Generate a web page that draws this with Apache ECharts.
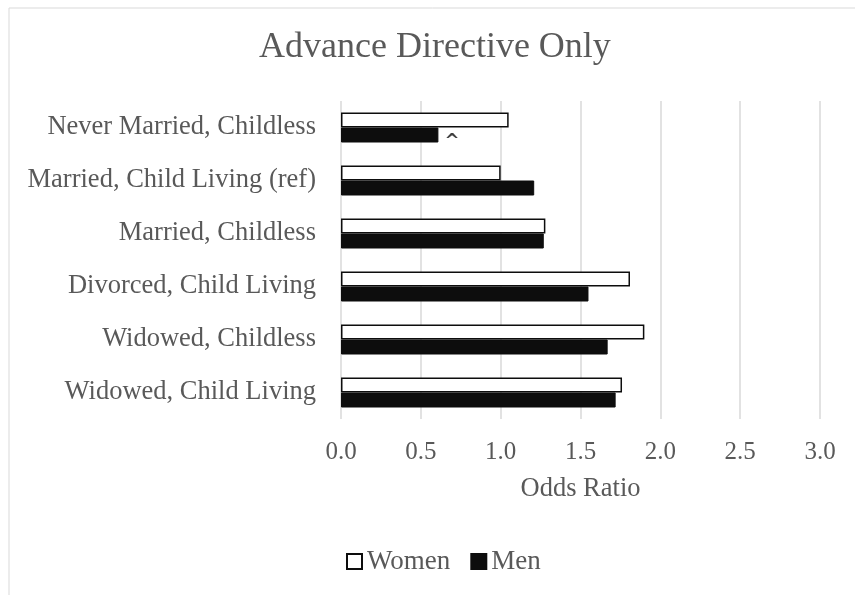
<!DOCTYPE html>
<html>
<head>
<meta charset="utf-8">
<style>
  html, body { margin: 0; padding: 0; background: #ffffff; }
  #chart { width: 855px; height: 595px; }
</style>
<script src="https://cdn.jsdelivr.net/npm/echarts@6/dist/echarts.min.js"></script>
</head>
<body>
<div id="chart"></div>
<script>
// Group labels, listed top to bottom
const categories = [
  'Never Married, Childless',
  'Married, Child Living (ref)',
  'Married, Childless',
  'Divorced, Child Living',
  'Widowed, Childless',
  'Widowed, Child Living'
];
// Odds ratios by sex
const womenValues = [1.05, 1.00, 1.28, 1.81, 1.90, 1.76];
const menValues   = [0.61, 1.21, 1.27, 1.55, 1.67, 1.72];
// Significance marker shown beside a bar ('' = none)
const menMarks    = ['^', '', '', '', '', ''];
const xTicks = { min: 0, max: 3, step: 0.5 };

const FONT = '"Liberation Serif", "Times New Roman", serif';
const TXT = '#595959';

const chart = echarts.init(document.getElementById('chart'), null, { renderer: 'canvas' });

chart.setOption({
  animation: false,
  backgroundColor: '#ffffff',
  textStyle: { fontFamily: FONT },
  graphic: [{
    type: 'rect',
    shape: { x: 9, y: 8, width: 870, height: 600 },
    style: { fill: 'none', stroke: '#d9d9d9', lineWidth: 1 },
    silent: true, z: -1
  }],
  title: {
    text: 'Advance Directive Only',
    left: 254,
    top: 25,
    textStyle: { fontFamily: FONT, fontSize: 36, fontWeight: 'normal', color: TXT }
  },
  legend: {
    data: ['Women', 'Men'],
    bottom: 15,
    left: 341,
    itemWidth: 15,
    itemHeight: 15,
    itemGap: 20,
    icon: 'rect',
    textStyle: { fontFamily: FONT, fontSize: 27, color: TXT }
  },
  grid: { left: 341, right: 35, top: 101, bottom: 176, containLabel: false },
  xAxis: {
    type: 'value',
    min: xTicks.min,
    max: xTicks.max,
    interval: xTicks.step,
    name: 'Odds Ratio',
    nameLocation: 'middle',
    nameGap: 57,
    nameTextStyle: { fontFamily: FONT, fontSize: 26.5, color: TXT },
    axisLine: { show: false },
    axisTick: { show: false },
    axisLabel: {
      fontFamily: FONT, fontSize: 25, color: TXT, margin: 21,
      formatter: v => v.toFixed(1)
    },
    splitLine: { show: true, lineStyle: { color: '#d9d9d9', width: 1.5 } }
  },
  yAxis: {
    type: 'category',
    data: categories,
    inverse: true,
    axisLine: { show: false },
    axisTick: { show: false },
    axisLabel: { fontFamily: FONT, fontSize: 26.5, color: TXT, margin: 25, padding: [4, 0, 0, 0] }
  },
  series: [
    {
      name: 'Women',
      type: 'bar',
      data: womenValues,
      barWidth: 15,
      barGap: '0%',
      itemStyle: { color: '#ffffff', borderColor: '#0d0d0d', borderWidth: 1.5 }
    },
    {
      name: 'Men',
      type: 'bar',
      data: menValues.map((v, i) => menMarks[i]
        ? { value: v, label: { show: true, position: 'right', distance: 6, formatter: menMarks[i],
            fontFamily: '"DejaVu Sans", sans-serif', fontSize: 18, fontWeight: 'bold', color: '#404040', offset: [0, 6] } }
        : v),
      barWidth: 15,
      itemStyle: { color: '#0d0d0d', borderColor: '#0d0d0d', borderWidth: 1 }
    }
  ]
});
</script>
</body>
</html>
